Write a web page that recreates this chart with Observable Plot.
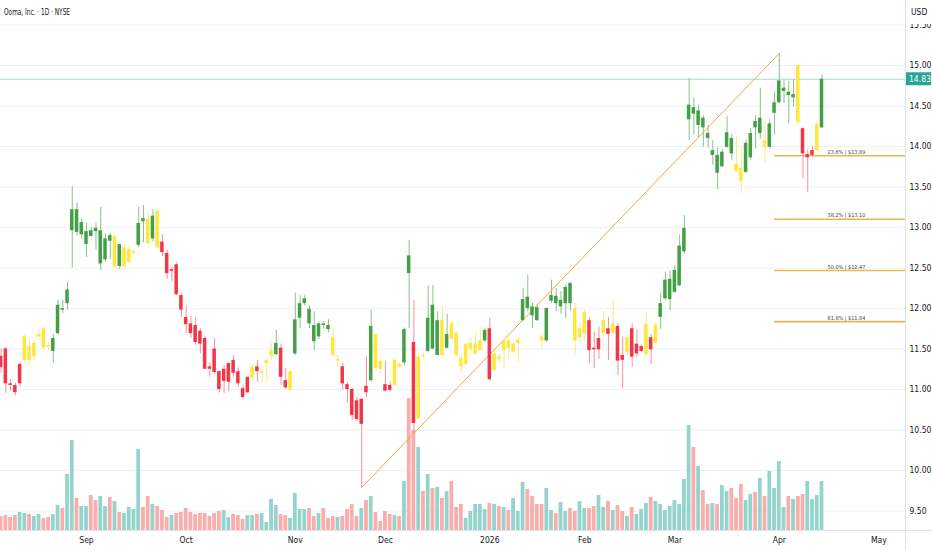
<!DOCTYPE html>
<html><head><meta charset="utf-8">
<script src="https://cdn.jsdelivr.net/npm/d3@7"></script>
<script src="https://cdn.jsdelivr.net/npm/@observablehq/plot@0.6"></script>
<style>
body{margin:0;background:#fff;}
#chart{width:932px;height:550px;}
</style></head><body><div id="chart"></div>
<script>
// ---- data (daily bars, index 0 = early Aug 2025) ----
const open = [
11.41,11.50,11.07,11.05,11.31,11.36,11.53,11.41,11.65,11.75,
11.54,11.47,11.69,11.98,12.06,12.96,12.94,12.91,12.79,12.89,
12.95,12.55,12.60,12.83,12.89,12.52,12.75,12.57,12.68,12.78,
13.07,13.10,12.86,13.20,12.82,12.68,12.48,12.54,12.16,11.89,
11.81,11.79,11.72,11.63,11.28,11.50,11.22,11.25,11.32,11.36,
11.22,11.01,11.15,11.14,11.28,11.20,11.32,11.41,11.43,11.51,
11.11,10.99,11.44,11.88,12.06,11.81,11.59,11.65,11.79,11.74,
11.64,11.35,11.28,11.06,11.00,10.86,10.88,11.04,11.11,11.68,
11.35,11.06,11.05,11.05,11.31,11.33,12.43,11.58,10.64,11.42,
11.47,11.50,11.42,11.85,11.51,11.81,11.69,11.38,11.31,11.50,
11.44,11.48,11.60,11.75,11.23,11.40,11.48,11.60,11.46,11.57,
11.85,12.00,11.91,11.85,11.65,11.60,12.09,12.06,12.02,12.06,
12.06,12.00,11.64,11.69,11.85,11.51,11.63,11.69,11.75,11.69,
11.78,11.42,11.46,11.75,11.56,11.53,11.43,11.64,11.57,11.89,
12.12,12.11,12.20,12.28,12.70,14.33,14.40,14.26,14.23,14.10,
13.89,13.67,13.75,13.99,13.91,13.78,13.73,13.68,13.86,14.23,
14.16,14.07,13.99,14.41,14.54,14.68,14.63,14.60,15.00,14.22,
13.90,13.95,13.95,14.23];
const high = [
11.50,11.52,11.12,11.08,11.33,11.68,11.60,11.60,11.72,11.78,
11.58,11.68,12.10,12.10,12.32,13.50,13.30,13.10,13.05,13.00,
13.05,13.25,12.92,12.93,12.89,12.79,12.80,12.76,12.72,13.25,
13.27,13.18,13.22,13.23,12.91,12.72,12.51,12.56,12.19,12.04,
11.90,11.89,11.75,11.65,11.33,11.63,11.23,11.30,11.33,11.42,
11.27,11.05,11.16,11.31,11.36,11.28,11.38,11.57,11.73,11.56,
11.26,11.23,12.19,12.16,12.16,12.03,11.96,11.83,11.84,11.86,
11.75,11.42,11.32,11.08,11.01,10.90,10.88,11.41,11.98,11.69,
11.36,11.35,11.09,11.38,11.33,11.76,12.84,12.10,11.45,11.45,
12.28,12.28,11.96,12.03,11.93,11.86,11.72,11.43,11.58,11.64,
11.71,11.77,11.75,11.88,11.48,11.43,11.62,11.68,11.58,11.64,
12.25,12.41,12.07,12.05,11.68,12.01,12.35,12.25,12.21,12.29,
12.32,12.06,11.83,11.98,11.89,11.71,11.77,11.97,11.89,12.10,
11.81,11.65,11.67,11.81,11.74,11.55,11.95,11.68,11.81,12.19,
12.45,12.46,12.53,12.91,13.15,14.84,14.60,14.51,14.38,14.26,
14.07,13.98,13.96,14.37,14.15,14.12,14.00,14.08,14.22,14.38,
14.72,14.30,14.33,14.67,15.15,14.82,14.80,14.82,15.02,14.23,
13.96,13.99,14.32,14.88];
const low = [
11.20,10.95,10.98,10.92,11.03,11.33,11.30,11.35,11.60,11.49,
11.47,11.32,11.67,11.94,11.98,12.50,12.90,12.85,12.63,12.88,
12.72,12.47,12.57,12.60,12.48,12.48,12.50,12.55,12.66,12.75,
12.81,12.78,12.82,12.74,12.64,12.36,12.33,12.16,11.89,11.69,
11.63,11.54,11.44,11.24,11.15,11.19,10.96,10.95,10.97,11.15,
11.03,10.88,10.95,11.11,11.09,11.08,11.09,11.36,11.42,11.05,
11.00,10.97,11.42,11.75,12.03,11.75,11.48,11.62,11.74,11.70,
11.39,11.27,10.99,10.83,10.62,10.61,9.79,10.90,11.09,11.22,
11.20,10.97,10.97,11.03,11.26,11.30,11.75,10.46,10.62,11.38,
11.45,11.49,11.42,11.40,11.50,11.61,11.40,11.20,11.30,11.44,
11.42,11.47,11.58,11.11,11.23,11.34,11.26,11.36,11.43,11.33,
11.84,11.96,11.75,11.84,11.50,11.58,12.06,11.96,11.93,11.88,
11.97,11.42,11.57,11.59,11.32,11.26,11.37,11.65,11.36,11.68,
11.17,11.01,11.40,11.27,11.40,11.45,11.42,11.31,11.55,11.74,
12.10,11.97,12.19,12.27,12.67,14.07,14.14,14.11,13.99,13.98,
13.77,13.47,13.74,13.98,13.83,13.68,13.42,13.67,13.83,13.97,
14.09,13.80,13.97,14.14,14.53,14.53,14.28,14.49,14.28,13.60,
13.43,13.87,13.93,14.22];
const close = [
11.27,11.07,11.05,10.96,11.07,11.65,11.36,11.57,11.68,11.51,
11.52,11.63,12.04,12.00,12.23,13.22,13.22,13.06,12.95,12.96,
12.99,12.96,12.86,12.90,12.51,12.79,12.52,12.73,12.70,13.05,
13.11,12.80,13.14,12.75,12.69,12.43,12.46,12.17,11.98,11.80,
11.69,11.58,11.56,11.25,11.25,11.21,11.00,11.10,11.09,11.20,
11.07,10.90,10.96,11.28,11.22,11.22,11.36,11.48,11.57,11.15,
11.02,11.22,11.86,12.06,12.12,11.99,11.79,11.81,11.81,11.79,
11.42,11.37,11.07,11.00,10.68,10.63,10.57,10.96,11.78,11.26,
11.25,10.98,10.99,11.36,11.28,11.74,12.65,10.58,11.40,11.40,
11.88,12.04,11.85,11.42,11.68,11.62,11.42,11.28,11.56,11.57,
11.56,11.60,11.73,11.12,11.44,11.37,11.60,11.51,11.56,11.61,
12.11,12.14,12.02,12.01,11.60,12.00,12.16,12.15,12.10,12.26,
12.31,11.60,11.75,11.95,11.48,11.49,11.49,11.85,11.68,11.81,
11.35,11.36,11.64,11.40,11.44,11.47,11.80,11.49,11.80,12.06,
12.35,12.36,12.47,12.77,12.99,14.51,14.48,14.44,14.35,14.16,
13.95,13.89,13.93,14.17,14.10,13.69,13.57,14.04,14.16,14.31,
14.35,13.99,14.28,14.54,14.81,14.72,14.67,14.64,14.30,13.91,
13.86,13.89,14.27,14.83];
// volume, thousands of shares (relative)
const volume = [
140,150,130,150,180,170,160,140,160,120,
130,160,250,220,560,900,320,240,240,350,
300,340,240,330,290,180,170,230,210,810,
230,340,260,240,200,130,150,170,180,220,
180,160,170,170,140,170,190,200,130,160,
150,110,150,150,160,170,80,310,250,160,
150,120,370,210,210,220,140,170,220,120,
140,130,140,210,260,140,220,300,340,180,
90,190,160,150,140,490,1320,1000,830,390,
560,420,430,320,390,490,230,260,120,190,
260,260,210,270,260,240,230,200,320,190,
480,410,340,260,260,420,200,170,280,190,
220,190,290,220,220,240,350,230,290,200,
250,190,140,230,160,210,270,330,290,260,
200,240,300,260,510,1050,830,640,400,260,
270,260,450,390,420,320,460,300,360,380,
520,340,590,420,690,230,340,310,340,360,
490,310,350,490];
// candle colour state: g = green, r = red, y = yellow (10 bars per row)
const tone = [
"rrrrryyyyy","yggggggggg","ggggygyyyg","gygyrrrrrr","rrrrrrrrrr",
"rrryryyygr","rygggggggg","yyrrrrrrgy","yrryyggryy","gggygyyyyy",
"yygryyyyyy","ggggyggggg","gyyyrrryry","rryrrryryg","gggggggggg",
"gggggyyggg","gyggggggyr","rryg"].join("").split("");
// volume bar direction: u = up (teal), d = down (red)
const volTone = [
"dddduuduud","duuduuduud","duududuuuu","dduddduddd","ddddddduud",
"dduuduuuud","duuuuddudd","duddddudud","dddududdud","udududdduu",
"uuudududuu","udddduuduu","dduudduudu","dduduuuduu","uuuuuududd",
"uduuddduud","uduuuududd","uuuu"].join("").split("");
const monthTicks = [18, 39, 62, 81, 103, 123, 142, 164, 185];
const monthLabels = ["Sep","Oct","Nov","Dec","2026","Feb","Mar","Apr","May"];
const yTicks = [9.5,10,10.5,11,11.5,12,12.5,13,13.5,14,14.5,15,15.5];
const fibRatios = [0.236, 0.382, 0.5, 0.618];
const fibStart = 163;
const title = "Ooma, Inc. · 1D · NYSE";

// ---- layout ----
const W = 932, H = 550, MR = 27, MB = 20;
const xDomain = [-0.126, 190.6];
const yDomain = [9.2593, 15.8025];
const FONT = "'Liberation Sans Narrow','DejaVu Sans Condensed','Liberation Sans',Arial,sans-serif";
const bodyColor = {g:"#43a047", r:"#f23645", y:"#ffe83b"};
const wickColor = {g:"#86c488", r:"#f5929a", y:"#f9ea85"};

const n = close.length;
const idx = d3.range(n);
const iLo = d3.minIndex(low), iHi = d3.maxIndex(high);
const trend = [{i: iLo, v: low[iLo]}, {i: iHi, v: high[iHi]}];
const fibs = fibRatios.map((r, k) => {
  const level = high[iHi] - r * (high[iHi] - low[iLo]);
  return {level, k, label: `${(r*100).toFixed(1)}% | $${level.toFixed(2)}`};
});
const volY = d3.scaleLinear().domain([0, d3.max(volume)])
  .range([yDomain[0], yDomain[0] + 0.249 * (yDomain[1] - yDomain[0])]);

const chart = Plot.plot({
  width: W, height: H,
  marginTop: 0, marginBottom: MB, marginLeft: 0, marginRight: MR,
  style: {fontFamily: FONT, fontSize: "8.5px", color: "#131722", background: "#fff"},
  color: {type: "identity"},
  x: {domain: xDomain, ticks: monthTicks, tickFormat: d => monthLabels[monthTicks.indexOf(d)] ?? "",
      tickSize: 0, tickPadding: 6, label: null},
  y: {domain: yDomain, axis: "right", ticks: yTicks, tickFormat: d => d.toFixed(2),
      tickSize: 0, tickPadding: 4, label: null},
  marks: [
    Plot.ruleY(yTicks, {stroke: "#eef0f4"}),
    Plot.rect(idx, {x1: i => i - 0.4, x2: i => i + 0.4, y1: () => yDomain[0], y2: i => volY(volume[i]),
      fill: i => volTone[i] === "u" ? "#95d4cd" : "#f8aeac"}),
    Plot.ruleY([close[n-1]], {stroke: "#a3dcd5"}),
    Plot.line(trend, {x: "i", y: "v", stroke: "#f6a53c", strokeWidth: 1}),
    Plot.ruleY(fibs, {y: "level", x1: () => fibStart, x2: () => xDomain[1],
      stroke: "#e8b850", strokeWidth: 1.6}),
    Plot.ruleX(idx, {x: i => i, y1: i => low[i], y2: i => high[i], stroke: i => wickColor[tone[i]]}),
    Plot.rect(idx, {x1: i => i - 0.37, x2: i => i + 0.37, y1: i => open[i], y2: i => close[i],
      fill: i => bodyColor[tone[i]]}),
    Plot.text(fibs, {x: () => fibStart, y: "level", text: "label", dx: 53, dy: -3.5,
      textAnchor: "start", fontSize: 5.5, fill: "#444"})
  ]
});
document.getElementById("chart").appendChild(chart);

// frame separators, title, currency label and last-price tag
const svg = d3.select(chart);
const ys = chart.scale("y");
const fx = W - MR, fy = H - MB;
svg.append("line").attr("x1", fx + 0.5).attr("x2", fx + 0.5).attr("y1", 0).attr("y2", H).attr("stroke", "#e0e3eb");
svg.append("line").attr("x1", 0).attr("x2", W).attr("y1", fy + 0.5).attr("y2", fy + 0.5).attr("stroke", "#e0e3eb");
svg.append("text").attr("x", 4).attr("y", 12).attr("dominant-baseline", "central")
  .attr("text-anchor", "start").attr("font-size", 8.5).attr("fill", "#131722")
  .attr("textLength", 66).attr("lengthAdjust", "spacingAndGlyphs").text(title);
svg.append("rect").attr("x", fx + 1).attr("y", 0).attr("width", MR - 1).attr("height", 24).attr("fill", "#fff");
svg.append("text").attr("x", fx + 6).attr("y", 12).attr("dominant-baseline", "central")
  .attr("text-anchor", "start").attr("font-size", 8.5).attr("fill", "#131722").text("USD");
const py = ys.apply(close[n-1]);
svg.append("rect").attr("x", fx + 1).attr("y", py - 6.5).attr("width", 25).attr("height", 13).attr("fill", "#26a69a");
svg.append("text").attr("x", fx + 4).attr("y", py).attr("dominant-baseline", "central")
  .attr("text-anchor", "start").attr("font-size", 8.5).attr("fill", "#fff").text(close[n-1].toFixed(2));
</script></body></html>
